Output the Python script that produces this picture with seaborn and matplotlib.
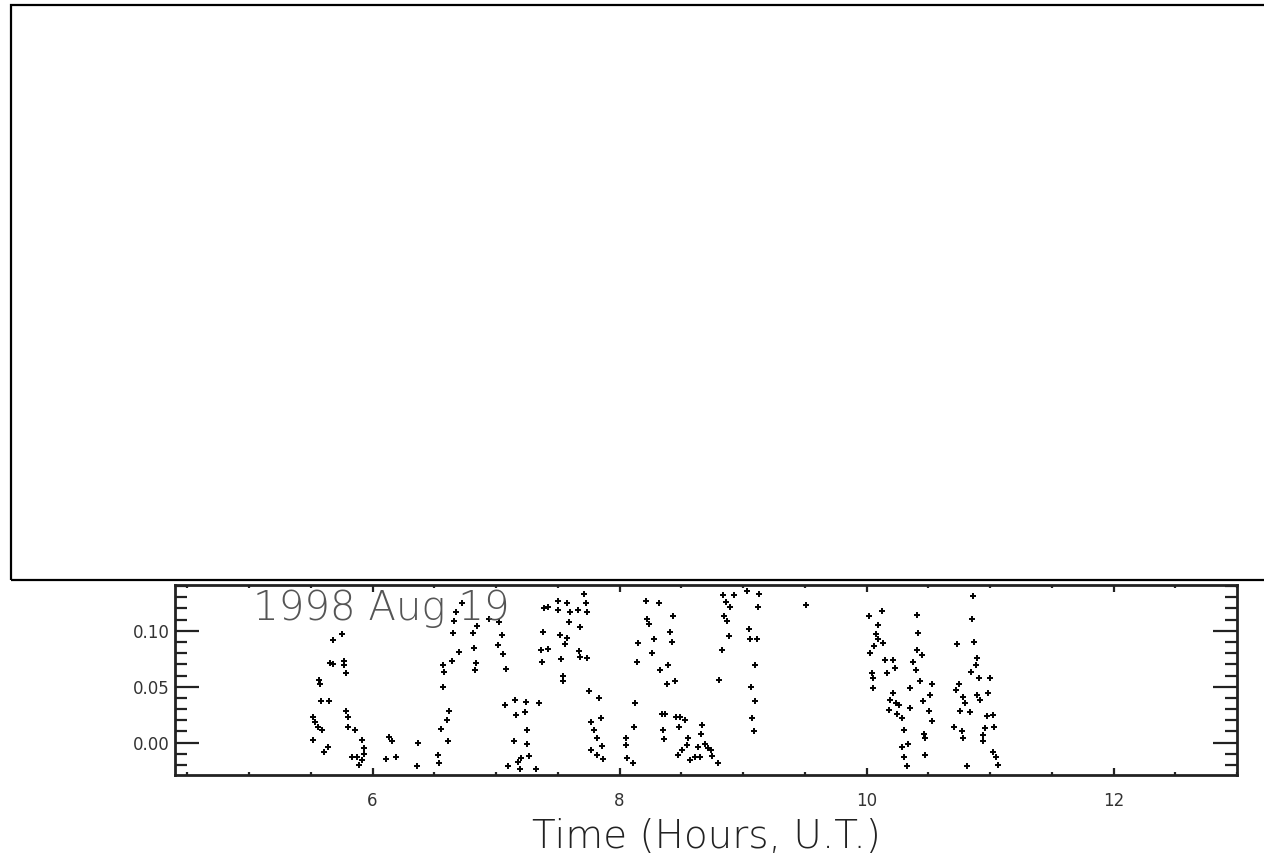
import matplotlib
matplotlib.use("Agg")
import matplotlib.pyplot as plt
import seaborn as sns
from matplotlib.ticker import MultipleLocator
from matplotlib.patches import Rectangle

# Light curve points (time in hours UT, relative signal)
time_hours = [
    5.676, 5.756, 5.657, 5.676, 5.769, 5.769, 5.783, 5.563, 5.574, 5.582,
    5.649, 5.515, 5.536, 5.555, 5.589, 5.788, 5.804, 5.804, 5.858, 5.520,
    5.636, 5.608, 5.917, 5.930, 5.837, 5.877, 5.930, 5.917, 5.890, 6.131,
    6.158, 6.105, 6.193, 6.368, 6.360,
    6.722, 6.676, 6.662, 6.649, 6.815, 6.847, 6.821, 6.702, 6.641, 6.574,
    6.582, 6.837, 6.829, 6.569, 6.622, 6.606, 6.553, 6.614, 6.533, 6.539,
    6.944, 7.025, 7.044, 7.016, 7.056, 7.077, 7.070, 7.150, 7.239, 7.158,
    7.231, 7.346, 7.250, 7.142, 7.250, 7.266, 7.204, 7.177, 7.097, 7.191,
    7.320, 7.386, 7.384, 7.365, 7.418, 7.373,
    7.418, 7.499, 7.504, 7.574, 7.601, 7.660, 7.714, 7.727, 7.735, 7.593,
    7.681, 7.520, 7.574, 7.558, 7.524, 7.668, 7.681, 7.740, 7.541, 7.539,
    7.753, 7.834, 7.847, 7.767, 7.789, 7.816, 7.861, 7.767, 7.820, 7.869,
    8.049, 8.049, 8.062, 8.110, 8.116, 8.129, 8.142, 8.150, 8.218, 8.317,
    8.223, 8.237, 8.277, 8.263, 8.331, 8.389, 8.384, 8.411, 8.424, 8.344,
    8.371, 8.352, 8.363,
    8.430, 8.451, 8.456, 8.491, 8.531, 8.483, 8.665, 8.660, 8.558, 8.545,
    8.504, 8.472, 8.633, 8.693, 8.719, 8.741, 8.746, 8.572, 8.612, 8.652,
    8.794, 8.840, 8.928, 8.866, 8.894, 8.848, 8.874, 8.886, 8.826, 8.805,
    9.035, 9.127, 9.121, 9.047, 9.055, 9.116, 9.100, 9.068, 9.100, 9.073,
    9.089,
    9.513, 10.023, 10.126, 10.091, 10.077, 10.091, 10.136, 10.063, 10.029, 10.152,
    10.211, 10.232, 10.163, 10.044, 10.055, 10.050, 10.211, 10.189, 10.237, 10.263,
    10.178, 10.250, 10.290, 10.303, 10.285, 10.339, 10.303, 10.330, 10.356, 10.351,
    10.380, 10.401, 10.412, 10.420, 10.407, 10.447, 10.434, 10.461, 10.466, 10.474,
    10.529, 10.516, 10.503, 10.529, 10.475, 10.730, 10.864, 10.858, 10.869, 10.896,
    10.885, 10.842, 10.912, 11.003, 10.745, 10.726, 10.785, 10.798, 10.892, 10.919,
    10.986, 10.758, 10.839, 10.973, 11.021, 10.959, 11.032, 10.710, 10.772, 10.785,
    10.940, 10.940, 11.026, 11.047, 11.066, 10.817,
]
signal = [
    0.092, 0.097, 0.071, 0.070, 0.073, 0.069, 0.062, 0.056, 0.052, 0.037,
    0.037, 0.023, 0.018, 0.014, 0.011, 0.028, 0.023, 0.014, 0.011, 0.002,
    -0.004, -0.008, 0.002, -0.005, -0.013, -0.013, -0.010, -0.016, -0.020, 0.005,
    0.001, -0.015, -0.013, 0.000, -0.021,
    0.125, 0.117, 0.109, 0.098, 0.098, 0.104, 0.085, 0.081, 0.073, 0.069,
    0.063, 0.071, 0.065, 0.050, 0.028, 0.020, 0.012, 0.001, -0.011, -0.018,
    0.111, 0.108, 0.096, 0.087, 0.079, 0.066, 0.034, 0.038, 0.036, 0.025,
    0.027, 0.035, 0.011, 0.001, -0.001, -0.012, -0.014, -0.017, -0.021, -0.024,
    -0.024, 0.120, 0.099, 0.083, 0.084, 0.072,
    0.121, 0.127, 0.119, 0.125, 0.117, 0.119, 0.133, 0.125, 0.117, 0.108,
    0.103, 0.096, 0.094, 0.088, 0.075, 0.082, 0.077, 0.076, 0.060, 0.055,
    0.046, 0.040, 0.022, 0.018, 0.011, 0.004, -0.003, -0.007, -0.011, -0.015,
    0.004, -0.002, -0.014, -0.018, 0.014, 0.035, 0.072, 0.089, 0.127, 0.125,
    0.111, 0.106, 0.093, 0.080, 0.065, 0.069, 0.052, 0.099, 0.090, 0.026,
    0.026, 0.011, 0.003,
    0.113, 0.055, 0.023, 0.023, 0.020, 0.014, 0.016, 0.008, 0.004, -0.002,
    -0.007, -0.011, -0.004, -0.001, -0.005, -0.007, -0.012, -0.016, -0.013, -0.013,
    -0.018, 0.132, 0.132, 0.126, 0.121, 0.113, 0.109, 0.095, 0.083, 0.056,
    0.136, 0.133, 0.121, 0.102, 0.093, 0.093, 0.069, 0.050, 0.037, 0.022,
    0.010,
    0.123, 0.113, 0.118, 0.105, 0.097, 0.093, 0.089, 0.086, 0.080, 0.074,
    0.074, 0.067, 0.062, 0.062, 0.058, 0.049, 0.044, 0.038, 0.035, 0.034,
    0.029, 0.026, 0.022, 0.011, -0.004, -0.001, -0.013, -0.021, 0.049, 0.031,
    0.072, 0.065, 0.114, 0.098, 0.083, 0.078, 0.055, 0.037, 0.008, -0.011,
    0.052, 0.043, 0.028, 0.019, 0.004, 0.088, 0.131, 0.111, 0.090, 0.076,
    0.069, 0.063, 0.058, 0.058, 0.052, 0.047, 0.041, 0.035, 0.043, 0.038,
    0.044, 0.028, 0.027, 0.024, 0.025, 0.013, 0.014, 0.014, 0.010, 0.004,
    0.007, 0.001, -0.008, -0.013, -0.020, -0.021,
]
y_ticks = [0.00, 0.05, 0.10]
x_ticks = [6, 8, 10, 12]
date_label = "1998 Aug 19"

sns.set_style("ticks")
plt.rcParams['font.family'] = ['DejaVu Sans']

fig = plt.figure(figsize=(12.64, 8.63), dpi=100)

# blank upper panel frame
fig.patches.append(Rectangle((11 / 1264, 1 - 580 / 863), 1.2, (580 - 5) / 863,
                             transform=fig.transFigure, fill=False,
                             edgecolor='black', linewidth=1.6, clip_on=False))

ax = fig.add_axes([175 / 1264, 1 - 775 / 863, (1237 - 175) / 1264, (775 - 585) / 863])
sns.scatterplot(x=time_hours, y=signal, ax=ax, marker='+', color='black',
                s=18, linewidth=1.4)

ax.set_xlim(4.4, 13.0)
ax.set_ylim(-0.029, 0.141)
ax.set_xticks(x_ticks)
ax.set_yticks(y_ticks)
ax.set_yticklabels([f"{v:.2f}" for v in y_ticks])
ax.xaxis.set_minor_locator(MultipleLocator(0.5))
ax.yaxis.set_minor_locator(MultipleLocator(0.01))

for side in ax.spines.values():
    side.set_linewidth(2.0)
    side.set_color('#222222')

ax.tick_params(axis='both', which='both', direction='in', top=True, right=True,
               width=1.6, color='#222222', labelsize=12, labelcolor='#333333')
ax.tick_params(axis='y', which='major', length=17, pad=4)
ax.tick_params(axis='y', which='minor', length=8.5)
ax.tick_params(axis='x', which='major', length=5, pad=12)
ax.tick_params(axis='x', which='minor', length=2.5)

ax.set_xlabel("Time (Hours, U.T.)", fontsize=28, color='#222222',
              fontweight='light', labelpad=6)
ax.text(0.073, 0.98, date_label, transform=ax.transAxes, fontsize=29,
        color='#555555', fontweight='light', va='top', ha='left')

plt.savefig("out.png", dpi=100)
